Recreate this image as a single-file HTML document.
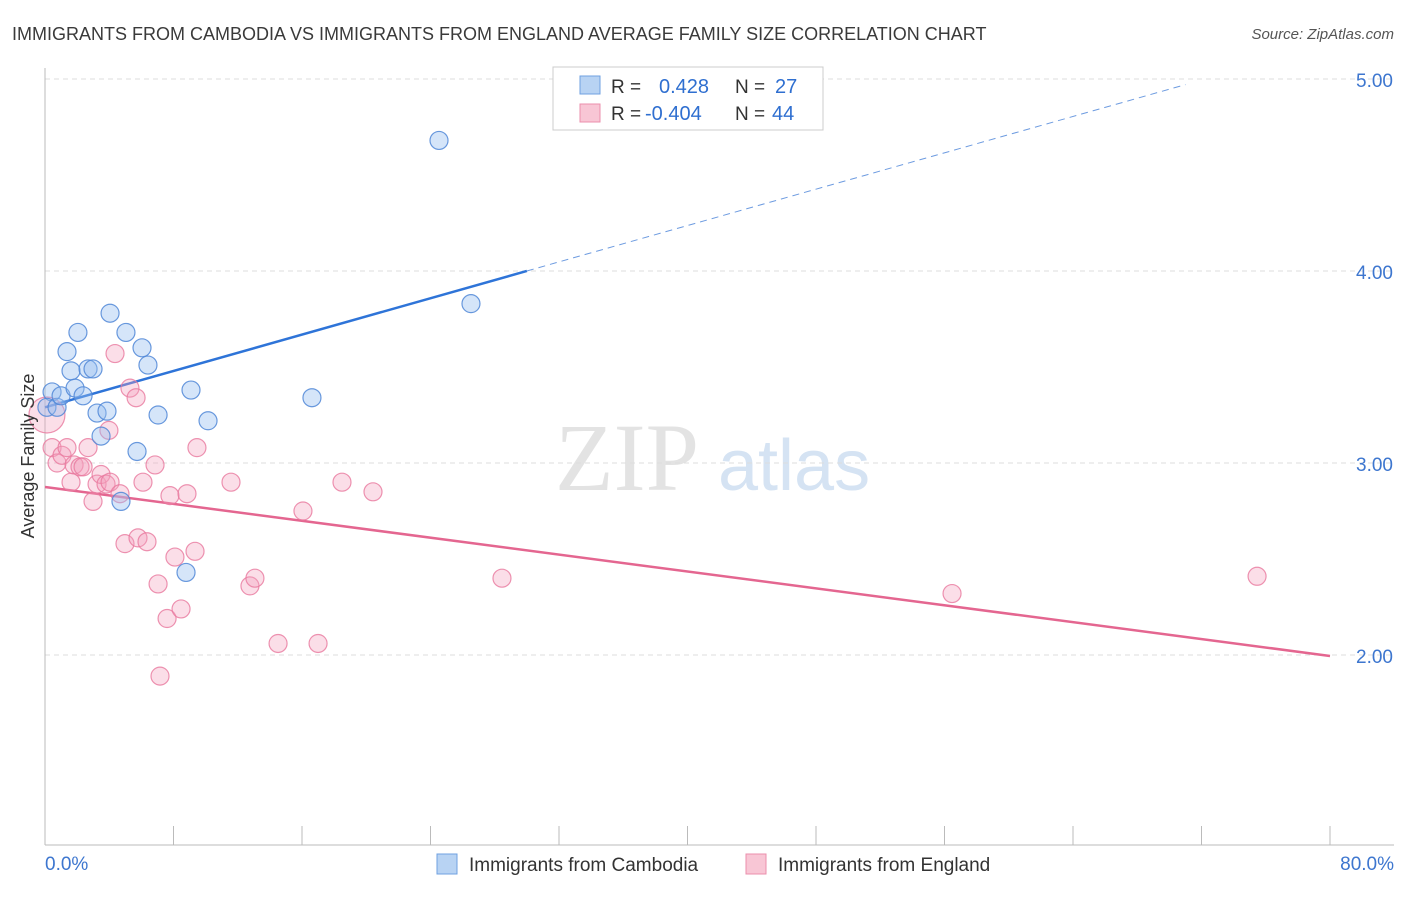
<!DOCTYPE html>
<html><head><meta charset="utf-8"><style>
body{margin:0;background:#fff;font-family:"Liberation Sans",sans-serif}
svg text{font-family:"Liberation Sans",sans-serif}
</style></head><body>
<svg id="c" width="1406" height="892" viewBox="0 0 1406 892">
<text x="12" y="40" font-size="18" fill="#3a3a3a">IMMIGRANTS FROM CAMBODIA VS IMMIGRANTS FROM ENGLAND AVERAGE FAMILY SIZE CORRELATION CHART</text>
<text x="1394" y="39" font-size="15" fill="#555" text-anchor="end" font-style="italic">Source: ZipAtlas.com</text>
<g><text x="555" y="490" font-size="96" fill="#e3e3e3" font-family="Liberation Serif" style="font-family:'Liberation Serif',serif">ZIP</text><text x="718" y="490" font-size="72" fill="#d5e3f3">atlas</text></g>
<g id="grid"></g><g id="axes"></g><g id="lines"></g><g id="pts"></g>
<text transform="translate(34,456) rotate(-90)" font-size="18" fill="#333" text-anchor="middle">Average Family Size</text>
<g>
<rect x="553" y="67" width="270" height="63" fill="#fff" stroke="#ccc"/>
<rect x="580" y="76" width="20" height="18" fill="#b8d3f3" stroke="#6fa0e0"/>
<rect x="580" y="104" width="20" height="18" fill="#f8c6d5" stroke="#eb8fac"/>
<text x="611" y="93" font-size="19" fill="#333">R = </text><text x="659" y="93" font-size="20" fill="#2f6fd0">0.428</text>
<text x="735" y="93" font-size="19" fill="#333">N = </text><text x="775" y="93" font-size="20" fill="#2f6fd0">27</text>
<text x="611" y="120" font-size="19" fill="#333">R = </text><text x="645" y="120" font-size="20" fill="#2f6fd0">-0.404</text>
<text x="735" y="120" font-size="19" fill="#333">N = </text><text x="772" y="120" font-size="20" fill="#2f6fd0">44</text>
</g>
<g>
<rect x="437" y="854" width="20" height="20" fill="#b8d3f3" stroke="#6fa0e0"/>
<text x="469" y="871" font-size="19" fill="#333">Immigrants from Cambodia</text>
<rect x="746" y="854" width="20" height="20" fill="#f8c6d5" stroke="#eb8fac"/>
<text x="778" y="871" font-size="19" fill="#333">Immigrants from England</text>
</g>
</svg>
<script>
const yTicks=[2,3,4,5];
const yTickLabels=["2.00","3.00","4.00","5.00"];
const xTickLabels=["0.0%","80.0%"];
const blueX=[0.44,0.12,0.75,1.0,1.37,1.62,1.87,2.05,2.37,2.68,2.99,3.24,3.49,3.86,4.05,4.73,5.04,5.73,6.04,6.41,7.04,8.78,9.09,10.15,16.62,24.53,26.52];
const blueY=[3.37,3.29,3.29,3.35,3.58,3.48,3.39,3.68,3.35,3.49,3.49,3.26,3.14,3.27,3.78,2.80,3.68,3.06,3.60,3.51,3.25,2.43,3.38,3.22,3.34,4.68,3.83];
const pinkX=[0.12,0.44,0.75,1.06,1.37,1.62,1.81,2.18,2.37,2.68,2.99,3.24,3.49,3.80,3.98,4.05,4.36,4.67,4.98,5.29,5.67,5.79,6.10,6.35,6.85,7.04,7.16,7.60,7.78,8.09,8.47,8.84,9.34,9.46,11.58,12.76,13.07,14.51,16.06,17.00,18.49,20.42,28.45,56.47,75.46];
const pinkY=[3.25,3.08,3.00,3.04,3.08,2.90,2.99,2.98,2.98,3.08,2.80,2.89,2.94,2.89,3.17,2.90,3.57,2.84,2.58,3.39,3.34,2.61,2.90,2.59,2.99,2.37,1.89,2.19,2.83,2.51,2.24,2.84,2.54,3.08,2.90,2.36,2.40,2.06,2.75,2.06,2.90,2.85,2.40,2.32,2.41];
const blueTrend=[3.29,0.02367];
const pinkTrend=[2.875,-0.011];
const X=v=>45+v*(1285/80), Y=v=>463-(v-3)*192;
const NS="http://www.w3.org/2000/svg";
function mk(t,a,p){const e=document.createElementNS(NS,t);for(const k in a)e.setAttribute(k,a[k]);document.getElementById(p).appendChild(e);return e;}
yTicks.forEach((t,i)=>{
 const g=mk('line',{x1:45,x2:1394,y1:Y(t),y2:Y(t),stroke:'#ddd','stroke-dasharray':'5,4'},'grid');
 
 
 const l=mk('text',{x:1393,y:Y(t)+8,'font-size':19,fill:'#3d76cf','text-anchor':'end'},'axes');l.textContent=yTickLabels[i];
 
 
});
mk('line',{x1:45,x2:45,y1:68,y2:845,stroke:'#bbb'},'axes');
mk('line',{x1:45,x2:1394,y1:845,y2:845,stroke:'#bbb'},'axes');
for(let i=0;i<=10;i++){const t=mk('line',{x1:X(i*8),x2:X(i*8),y1:826,y2:845,stroke:'#bbb'},'axes');
 
 }
[[0,'start',45],[80,'end',1394]].forEach((d,i)=>{const t=mk('text',{x:d[2],y:870,'font-size':19,fill:'#3d76cf','text-anchor':d[1]},'axes');t.textContent=xTickLabels[i];
 
 });
let b1=mk('line',{x1:X(0),y1:Y(blueTrend[0]),x2:X(30),y2:Y(blueTrend[0]+blueTrend[1]*30),stroke:'#2e74d8','stroke-width':2.5},'lines');


let b2=mk('line',{x1:X(30),y1:Y(blueTrend[0]+blueTrend[1]*30),x2:X(71),y2:Y(blueTrend[0]+blueTrend[1]*71),stroke:'#6d9be0','stroke-width':1,'stroke-dasharray':'7,5'},'lines');


let p1=mk('line',{x1:X(0),y1:Y(pinkTrend[0]),x2:X(80),y2:Y(pinkTrend[0]+pinkTrend[1]*80),stroke:'#e46690','stroke-width':2.5},'lines');


pinkX.forEach((x,i)=>{const c=mk('circle',{cx:X(x),cy:Y(pinkY[i]),r:i===0?18:9,fill:'rgba(244,160,188,0.35)',stroke:'rgba(232,120,158,0.8)','stroke-width':1.2},'pts');
 
 });
blueX.forEach((x,i)=>{const c=mk('circle',{cx:X(x),cy:Y(blueY[i]),r:9,fill:'rgba(150,190,240,0.4)',stroke:'rgba(80,135,215,0.85)','stroke-width':1.2},'pts');
 
 });
</script>
</body></html>
